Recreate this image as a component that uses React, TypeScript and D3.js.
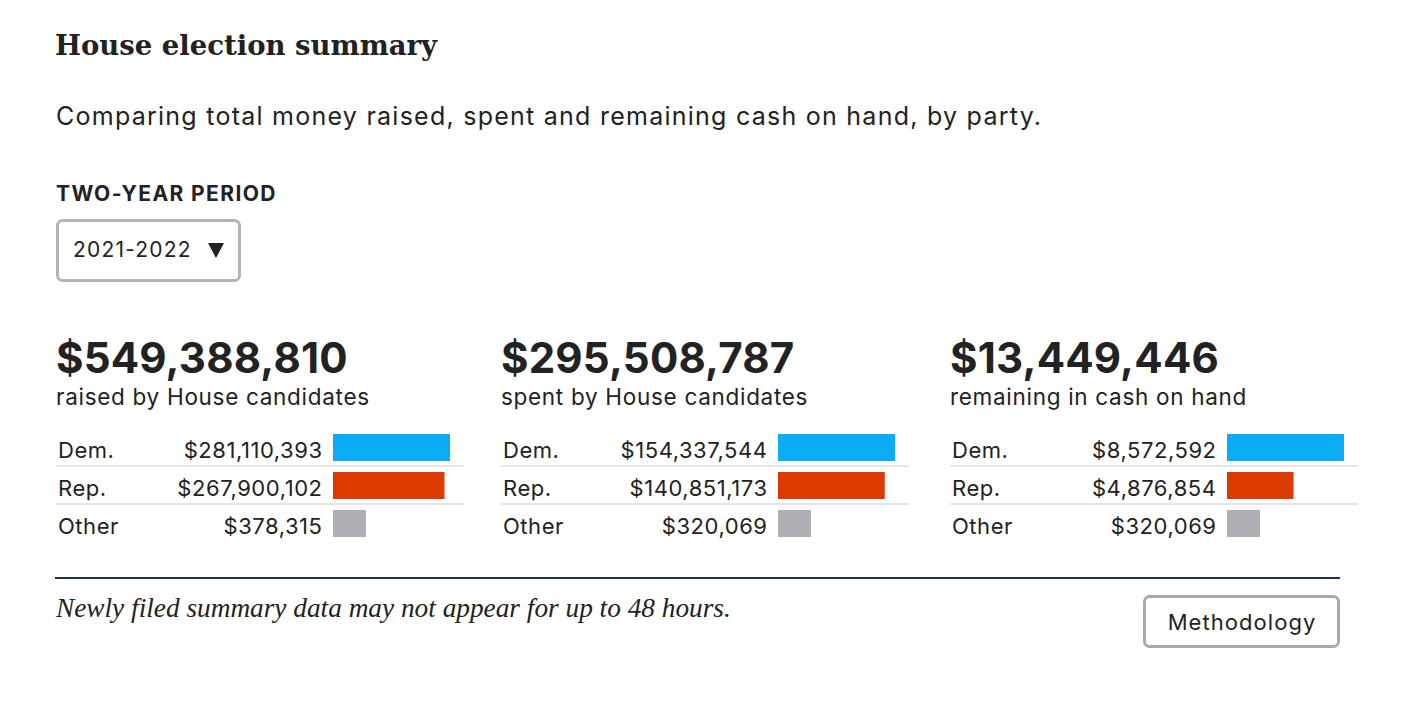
import React from "react";
import * as d3 from "d3";

const parties = ["Dem.", "Rep.", "Other"];
const partyColors = ["#0bacf6", "#dc3a00", "#aeafb4"];
const totals = [549388810, 295508787, 13449446];
const captions = ["raised by House candidates", "spent by House candidates", "remaining in cash on hand"];
const raised = [281110393, 267900102, 378315];
const spent = [154337544, 140851173, 320069];
const cashOnHand = [8572592, 4876854, 320069];
const panels = [raised, spent, cashOnHand];

const title = "House election summary";
const subtitle = "Comparing total money raised, spent and remaining cash on hand, by party.";
const periodLabel = "TWO-YEAR PERIOD";
const period = "2021-2022";
const footnote = "Newly filed summary data may not appear for up to 48 hours.";

const SANS = "Inter, 'Noto Sans', sans-serif";
const SERIF = "'DejaVu Serif', serif";
const SERIF2 = "'Liberation Serif', serif";
const INK = "#222";

export default function App() {
  const fmt = d3.format("$,");
  const panelX = d3.scaleOrdinal<number, number>().domain([0, 1, 2]).range([56, 501, 950]);
  const rowY = d3.scalePoint<number>().domain([0, 1, 2]).range([434, 510]);
  const barH = 27;
  const maxBar = 117;
  const minBar = 33;
  const panelW = 408;
  const rowLs = 0.55;

  return (
    <svg width={1426} height={706} style={{ position: "absolute", left: 0, top: 0 }}>
      <rect width={1426} height={706} fill="#fff" />
      <text x={55} y={55} fontFamily={SERIF} fontWeight={700} fontSize={27.5} fill={INK}>{title}</text>
      <text x={56} y={125} fontFamily={SANS} fontSize={25} letterSpacing={1.25} fill={INK}>{subtitle}</text>
      <text x={56} y={201} fontFamily={SANS} fontWeight={700} fontSize={21} letterSpacing={1.4} fill={INK}>{periodLabel}</text>
      <rect x={57.5} y={220.5} width={182} height={60} rx={5} fill="#fff" stroke="#b3b4b8" strokeWidth={3} />
      <text x={73} y={257} fontFamily={SANS} fontSize={21} letterSpacing={1.2} fill={INK}>{period}</text>
      <path d="M208,243 L224,243 L216,258 Z" fill={INK} />

      {panels.map((vals, pi) => {
        const x0 = panelX(pi);
        const xs = d3.scaleLinear().domain([0, d3.max(vals)!]).range([0, maxBar]);
        const barX = x0 + 277;
        return (
          <g key={pi}>
            <text x={x0} y={373} fontFamily={SANS} fontWeight={700} fontSize={42} letterSpacing={0.2} fill={INK}>{fmt(totals[pi])}</text>
            <text x={x0} y={405} fontFamily={SANS} fontSize={22.5} letterSpacing={0.7} fill={INK}>{captions[pi]}</text>
            {vals.map((v, ri) => {
              const y = rowY(ri)!;
              return (
                <g key={ri}>
                  <text x={x0 + 2} y={y + 24} fontFamily={SANS} fontSize={22} letterSpacing={rowLs} fill={INK}>{parties[ri]}</text>
                  <text x={barX - 11 + rowLs} y={y + 24} textAnchor="end" fontFamily={SANS} fontSize={22} letterSpacing={rowLs} fill={INK}>{fmt(v)}</text>
                  <rect x={barX} y={y} width={Math.max(minBar, xs(v))} height={barH} fill={partyColors[ri]} />
                  {ri < vals.length - 1 && (
                    <line x1={x0} x2={x0 + panelW} y1={y + barH + 5} y2={y + barH + 5} stroke="#e6e6e6" strokeWidth={2} />
                  )}
                </g>
              );
            })}
          </g>
        );
      })}

      <line x1={55} x2={1340} y1={578} y2={578} stroke="#1b2f4e" strokeWidth={2} />
      <text x={56} y={617} fontFamily={SERIF2} fontStyle="italic" fontSize={27.3} fill={INK}>{footnote}</text>
      <rect x={1144.5} y={596.5} width={194} height={50} rx={5} fill="#fff" stroke="#a9aaae" strokeWidth={3} />
      <text x={1242} y={630} textAnchor="middle" fontFamily={SANS} fontSize={22} letterSpacing={1.05} fill={INK}>Methodology</text>
    </svg>
  );
}
